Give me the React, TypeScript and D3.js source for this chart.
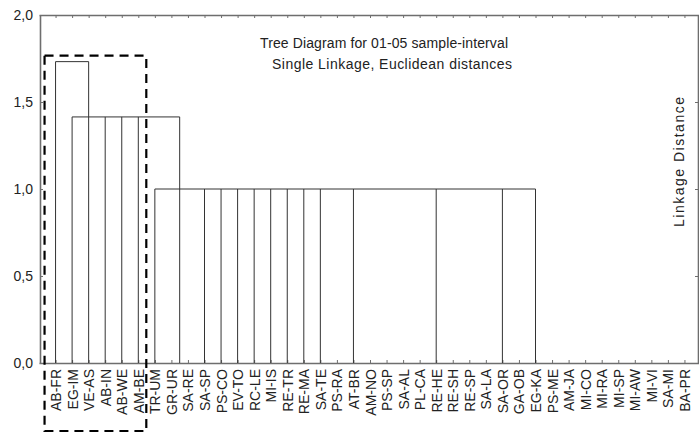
import { useEffect, useRef } from 'react';
import * as d3 from 'd3';

// leaves in the order they appear along the bottom axis
const leafNames = [
    'AB-FR', 'EG-IM', 'VE-AS', 'AB-IN', 'AB-WE', 'AM-BE', 'TR-UM', 'GR-UR', 'SA-RE', 'SA-SP',
    'PS-CO', 'EV-TO', 'RC-LE', 'MI-IS', 'RE-TR', 'RE-MA', 'SA-TE', 'PS-RA', 'AT-BR', 'AM-NO',
    'PS-SP', 'SA-AL', 'PL-CA', 'RE-HE', 'RE-SH', 'RE-SP', 'SA-LA', 'SA-OR', 'GA-OB', 'EG-KA',
    'PS-ME', 'AM-JA', 'MI-CO', 'MI-RA', 'MI-SP', 'MI-AW', 'MI-VI', 'SA-MI', 'BA-PR'
];

// groups of identical samples (joined at distance 0)
const zeroGroupA = ['GR-UR', 'SA-RE'];
const zeroGroupB = ['PS-RA', 'AT-BR', 'AM-NO', 'PS-SP', 'SA-AL', 'PL-CA'];
const zeroGroupC = ['RE-HE', 'RE-SH', 'RE-SP', 'SA-LA'];
const zeroGroupD = ['SA-OR', 'GA-OB'];
const zeroGroupE = ['EG-KA', 'PS-ME', 'AM-JA', 'MI-CO', 'MI-RA', 'MI-SP', 'MI-AW', 'MI-VI', 'SA-MI', 'BA-PR'];

// linkage distances of the merges
const mergeHeights = { g: 0, c2: 1.0, c1: Math.SQRT2, root: 1.732 };

interface Cluster {
    name: string;
    height: number;
    children: string[];
    anchor?: string; // child whose stem the cluster stem follows (else midpoint)
}

const clusters: Cluster[] = [
    { name: 'G1', height: mergeHeights.g, children: zeroGroupA },
    { name: 'G2', height: mergeHeights.g, children: zeroGroupB, anchor: 'AT-BR' },
    { name: 'G3', height: mergeHeights.g, children: zeroGroupC, anchor: 'RE-HE' },
    { name: 'G4', height: mergeHeights.g, children: zeroGroupD, anchor: 'SA-OR' },
    { name: 'G5', height: mergeHeights.g, children: zeroGroupE, anchor: 'EG-KA' },
    {
        name: 'C2', height: mergeHeights.c2, anchor: 'G1',
        children: ['TR-UM', 'G1', 'SA-SP', 'PS-CO', 'EV-TO', 'RC-LE', 'MI-IS', 'RE-TR', 'RE-MA', 'SA-TE', 'G2', 'G3', 'G4', 'G5']
    },
    { name: 'C1', height: mergeHeights.c1, anchor: 'VE-AS', children: ['EG-IM', 'VE-AS', 'AB-IN', 'AB-WE', 'AM-BE', 'C2'] },
    { name: 'root', height: mergeHeights.root, children: ['AB-FR', 'C1'] }
];

// leaves inside the dashed highlight box
const boxedLeaves = ['AB-FR', 'AM-BE'];

const yTicks = [0, 0.5, 1.0, 1.5, 2.0];
const titleLines = ['Tree Diagram for 01-05 sample-interval', 'Single Linkage, Euclidean distances'];
const yAxisTitle = 'Linkage Distance';

const W = 699;
const H = 439;
const margin = { top: 15, right: 1, bottom: 76, left: 40 };
const FONT = '"Liberation Sans", Arial, sans-serif';

const App = () => {
    const svgRef = useRef<SVGSVGElement>(null);

    useEffect(() => {
        if (!svgRef.current) return;
        d3.select(svgRef.current).selectAll('*').remove();

        const innerW = W - margin.left - margin.right;
        const innerH = H - margin.top - margin.bottom;

        const svg = d3.select(svgRef.current);
        const g = svg.append('g').attr('transform', `translate(${margin.left},${margin.top})`);

        const x = d3.scalePoint<string>()
            .domain(leafNames)
            .range([-1, innerW + 3])
            .padding(1);

        const y = d3.scaleLinear().domain([0, 2]).range([innerH, 0]);

        const fmt = (d: d3.NumberValue) => d3.format('.1f')(d as number).replace('.', ',');

        // positions and heights of every node
        const pos = new Map<string, number>();
        const hgt = new Map<string, number>();
        leafNames.forEach(n => { pos.set(n, x(n) as number); hgt.set(n, 0); });
        clusters.forEach(c => {
            const xs = c.children.map(ch => pos.get(ch) as number);
            const p = c.anchor ? (pos.get(c.anchor) as number) : (d3.min(xs)! + d3.max(xs)!) / 2;
            pos.set(c.name, p);
            hgt.set(c.name, c.height);
        });

        const axisColor = '#6e6e6e';
        const treeColor = '#333';

        // Axes
        const left = g.append('g').call(d3.axisLeft(y).tickValues(yTicks).tickFormat(fmt)
            .tickSizeInner(-3).tickSizeOuter(0).tickPadding(7));
        const right = g.append('g').attr('transform', `translate(${innerW},0)`)
            .call(d3.axisRight(y).tickValues(yTicks).tickFormat(() => '')
                .tickSizeInner(-3).tickSizeOuter(0));
        const top = g.append('g').call(d3.axisTop(x).tickFormat(() => '')
            .tickSizeInner(-3).tickSizeOuter(0));
        const bottom = g.append('g').attr('transform', `translate(0,${innerH})`)
            .call(d3.axisBottom(x).tickSizeInner(-3).tickSizeOuter(0));

        [left, right, top, bottom].forEach(a => {
            a.select('.domain').attr('stroke', axisColor).attr('stroke-width', 1.6);
            a.selectAll('.tick line').attr('stroke', axisColor);
            a.selectAll('text').style('font-family', FONT).style('font-size', '14px').attr('fill', '#222');
        });

        bottom.selectAll('.tick text')
            .attr('transform', 'rotate(-90)')
            .attr('x', -6)
            .attr('y', 0)
            .attr('dy', '0.36em')
            .style('text-anchor', 'end');

        // Tree
        const tree = g.append('g').attr('stroke', treeColor).attr('stroke-width', 1).attr('fill', 'none');
        clusters.filter(c => c.height > 0).forEach(c => {
            const xs = c.children.map(ch => pos.get(ch) as number);
            tree.append('line')
                .attr('x1', d3.min(xs)!).attr('x2', d3.max(xs)!)
                .attr('y1', y(c.height)).attr('y2', y(c.height));
            c.children.forEach(ch => {
                const base = hgt.get(ch) as number;
                tree.append('line')
                    .attr('x1', pos.get(ch)!).attr('x2', pos.get(ch)!)
                    .attr('y1', y(base)).attr('y2', y(c.height));
            });
        });

        // Dashed highlight box
        const bx0 = (x(boxedLeaves[0]) as number) - 11;
        const bx1 = (x(boxedLeaves[1]) as number) + 8;
        g.append('rect')
            .attr('x', bx0)
            .attr('y', y(mergeHeights.root) - 6)
            .attr('width', bx1 - bx0)
            .attr('height', innerH + 68 - (y(mergeHeights.root) - 6))
            .attr('fill', 'none')
            .attr('stroke', '#000')
            .attr('stroke-width', 2.2)
            .attr('stroke-dasharray', '9,6');

        // Title
        const titleX = [220, 232];
        const titleLen = [248, 240];
        const title = g.append('g').style('font-family', FONT).style('font-size', '14px').attr('fill', '#222');
        titleLines.forEach((t, i) => {
            title.append('text')
                .attr('x', titleX[i])
                .attr('y', 33 + i * 20.5)
                .attr('textLength', titleLen[i])
                .attr('lengthAdjust', 'spacing')
                .text(t);
        });

        // Y axis title on the right
        g.append('text')
            .attr('transform', `translate(${innerW - 19},${y(1.155)}) rotate(-90)`)
            .attr('text-anchor', 'middle')
            .attr('dy', '0.35em')
            .attr('textLength', 130)
            .attr('lengthAdjust', 'spacing')
            .style('font-family', FONT)
            .style('font-size', '14px')
            .attr('fill', '#222')
            .text(yAxisTitle);
    }, []);

    return (
        <svg ref={svgRef} width={W} height={H}
            style={{ position: 'absolute', left: 0, top: 0, background: '#fff' }}
            role="img" aria-label="Tree diagram, single linkage, Euclidean distances"></svg>
    );
};

export default App;
